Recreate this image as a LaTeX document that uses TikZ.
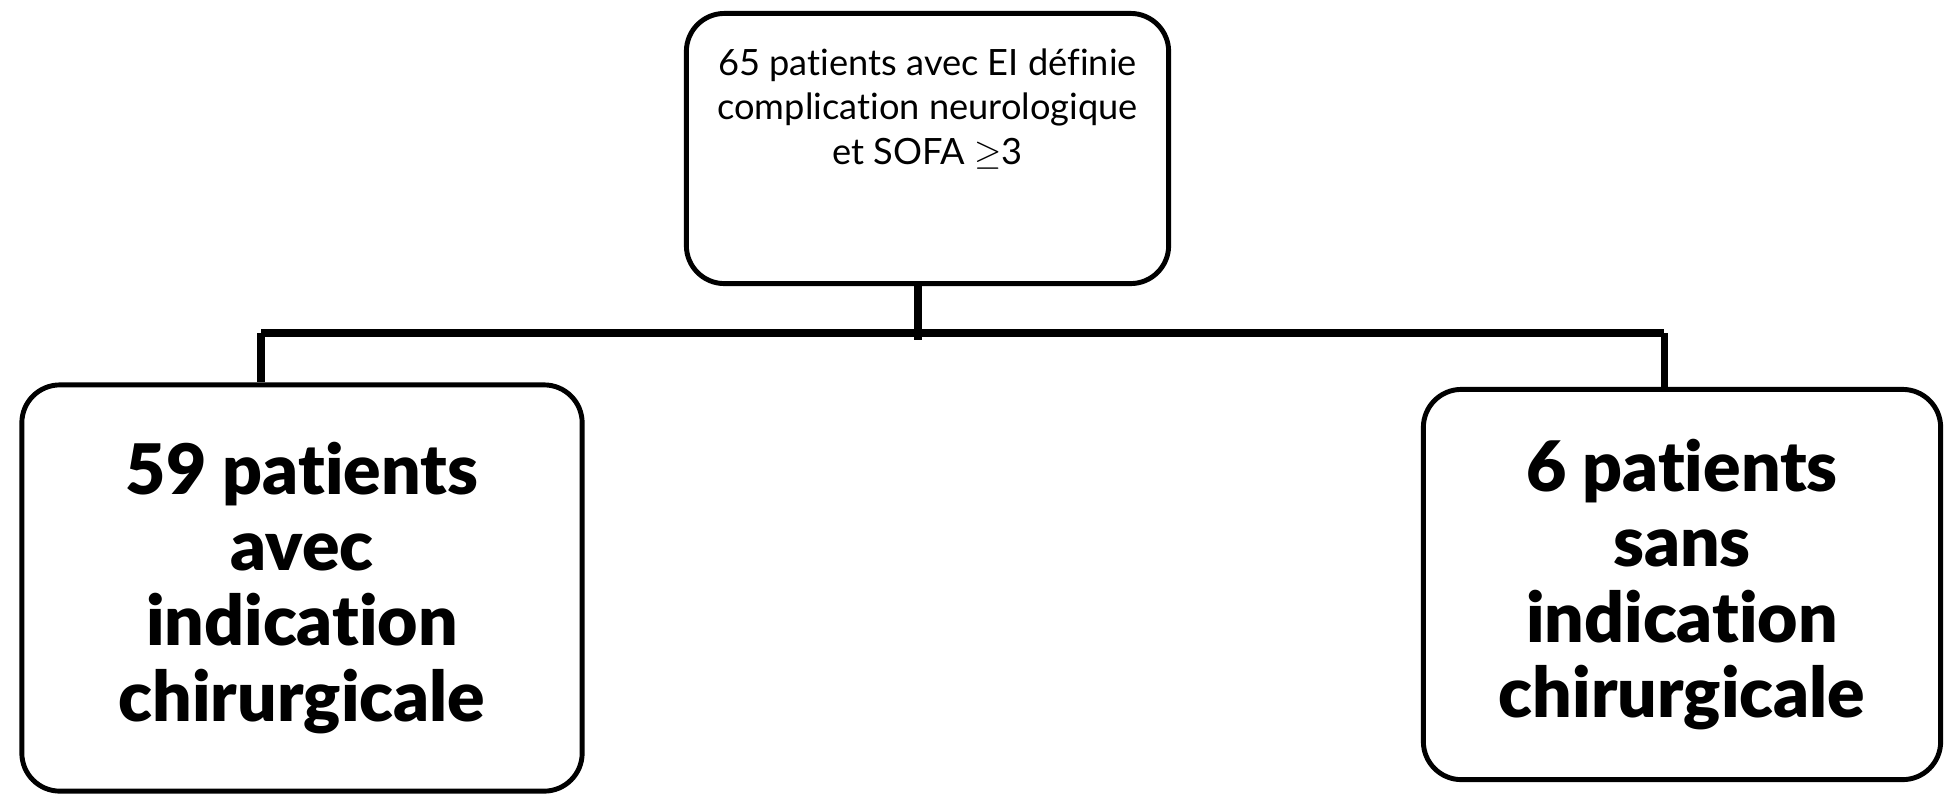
\documentclass[tikz,border=0pt]{standalone}
\usepackage{amsmath}
\usepackage{fontspec}
\setmainfont{Lato}[BoldFont={Lato Black}, Ligatures={NoCommon,NoRequired,NoContextual}]
\usepackage{tikz}

\begin{document}
\begin{tikzpicture}[x=0.01cm, y=-0.01cm,
    box/.style={shape=rectangle, rounded corners=0.38cm, draw=black, line width=1.4pt, align=center},
    link/.style={line width=2pt}]
    \useasboundingbox (0,0) rectangle (1946,796);

    \node[box, minimum width=4.82cm, minimum height=2.70cm, font=\fontsize{10.3}{12.6}\selectfont] (top) at (927.5,148.5) {65 patients avec EI définie\\complication neurologique\\et SOFA $\geq$3\\[1.1em]};
    \node[box, minimum width=5.60cm, minimum height=4.06cm, font=\fontsize{19.8}{21.5}\bfseries] (avec) at (302,588) {59 patients\\avec\\indication\\chirurgicale};
    \node[box, minimum width=5.17cm, minimum height=3.90cm, font=\fontsize{19.8}{21.5}\bfseries] (sans) at (1682,584.5) {6 patients\\sans\\indication\\chirurgicale};

    \coordinate (hub) at (918,333);
    \coordinate (jl) at (261,333);
    \coordinate (jr) at (1664,333);

    \draw[link] (top.south -| hub) -- ([yshift=-2pt]hub);
    \draw[link] (jl) -- (jr);
    \draw[link] (jl) -- (jl |- avec.north);
    \draw[link] (jr) -- (jr |- sans.north);
\end{tikzpicture}
\end{document}
